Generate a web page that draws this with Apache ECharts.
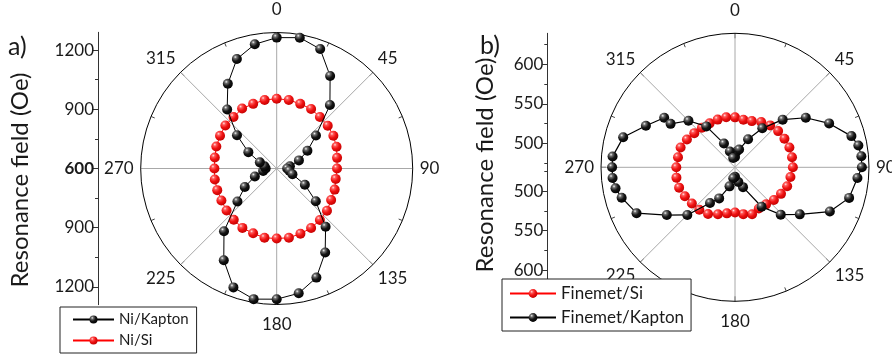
<!DOCTYPE html>
<html><head><meta charset="utf-8">
<script src="https://cdn.jsdelivr.net/npm/echarts@6/dist/echarts.min.js"></script>
<style>html,body{margin:0;padding:0;background:#fff}#c{width:892px;height:358px}</style>
</head><body><div id="c"></div>
<script>
// ---------- data ----------
const angleTicks = [0, 45, 90, 135, 180, 225, 270, 315];
// panel a (10 degree steps)
const anglesA = [0,10,20,30,40,50,60,70,80,90,100,110,120,130,140,150,160,170,180,190,200,210,220,230,240,250,260,270,280,290,300,310,320,330,340,350];
const niKapton = [1264,1274,1245,1142,1020,860,780,720,668,653,665,685,765,859,986,1092,1189,1243,1263,1273,1242,1137,1016,860,787,718,670,656,663,691,766,863,991,1096,1191,1240];
const niSi = [954,953,949,949,941,938,932,923,911,906,904,913,919,933,941,949,952,957,955,957,950,948,939,932,924,921,919,916,919,926,932,940,941,951,949,953];
const radialLabelsA = [1200, 900, 600, 900, 1200];
// panel b
const anglesBSi = [0,10,20,30,40,50,60,70,80,90,100,110,120,130,140,150,160,170,180,190,200,210,220,230,240,250,260,270,280,290,300,310,320,330,340,350];
const finemetSi = [533,531,532,536,539,541,542,543,543,543,541,540,537,534,531,530,533,530,527,529,533,538,540,541,543,545,545,544,543,543,540,537,535,534,534,534];
const anglesBKapton = [0,6,13,25,35,45,55,65,75,80,85,90,95,105,115,126,136,146,158,167,180,189,196,207,215,225,235,245,255,260,265,270,275,285,295,305,304,315,325,335,342,349];
const finemetKapton = [483,490,493,509,530,555,579,601,622,628,630,630,625,619,602,571,553,530,497,489,482,484,495,514,525,555,575,607,618,623,625,625,625,616,594,579,568,553,533,503,491,482];
const radialLabelsB = [600, 550, 500, 500, 550, 600];

// ---------- helpers ----------
const FONT = 'Lato';
const TXT = '#1a1a1a';
function pts(angles, vals) {
  const d = angles.map((a, i) => [vals[i], a]);
  d.push({ value: [vals[0], angles[0] + 360], symbol: 'none' });
  return d;
}
const blackBall = { type: 'radial', x: 0.35, y: 0.3, r: 0.75, colorStops: [
  { offset: 0, color: '#f4f4f4' }, { offset: 0.2, color: '#707070' }, { offset: 0.55, color: '#151515' }, { offset: 1, color: '#000' }] };
const redBall = { type: 'radial', x: 0.35, y: 0.3, r: 0.75, colorStops: [
  { offset: 0, color: '#ffe4e4' }, { offset: 0.2, color: '#ff5a5a' }, { offset: 0.55, color: '#ee1111' }, { offset: 1, color: '#c00000' }] };

function angleAxis(idx) {
  return {
    polarIndex: idx, type: 'value', min: 0, max: 360, interval: 45, startAngle: 90, clockwise: true,
    axisLine: { lineStyle: { color: '#000', width: 1 } },
    axisTick: { show: true, inside: true, length: 5, lineStyle: { color: '#444' } },
    minorTick: { show: true, splitNumber: 2, length: 4, lineStyle: { color: '#444' } },
    splitLine: { show: true, lineStyle: { color: '#a8a8a8', width: 1 } },
    axisLabel: {
      margin: 7, color: TXT, fontFamily: FONT, fontSize: 17,
      formatter: v => v === 0 ? '{t|0}' : v === 180 ? '{b|180}' : (v === 360 ? '' : String(v)),
      rich: {
        t: { padding: [0, 0, 7, 0], fontSize: 17, fontFamily: FONT, color: TXT },
        b: { padding: [5, 0, 0, 0], fontSize: 17, fontFamily: FONT, color: TXT }
      }
    }
  };
}

const chart = echarts.init(document.getElementById('c'), null, { renderer: 'canvas' });
const option = {
  animation: false,
  backgroundColor: '#fff',
  textStyle: { fontFamily: FONT },
  polar: [
    { center: [276.7, 168.5], radius: 136 },
    { center: [735, 167.3], radius: 134 }
  ],
  angleAxis: [angleAxis(0), angleAxis(1)],
  radiusAxis: [
    { polarIndex: 0, type: 'value', min: 600, max: 1290, show: false },
    { polarIndex: 1, type: 'value', min: 470, max: 639, show: false }
  ],
  grid: [
    { left: 98, width: 10, top: 32.3, height: 272.4 },
    { left: 547.3, width: 10, top: 33.3, height: 268 }
  ],
  xAxis: [
    { gridIndex: 0, type: 'value', show: false },
    { gridIndex: 1, type: 'value', show: false }
  ],
  yAxis: [
    { gridIndex: 0, type: 'value', position: 'left', min: -690, max: 690,
      axisLine: { show: true, lineStyle: { color: '#333', width: 1 } },
      splitLine: { show: false },
      axisTick: { show: true, length: 6, customValues: [-600, -300, 0, 300, 600], lineStyle: { color: '#333' } },
      axisLabel: { show: true, margin: 4, customValues: [-600, -300, 0, 300, 600], color: TXT, fontFamily: FONT, fontSize: 17,
        formatter: v => v === 0 ? '{m|600}' : String(600 + Math.abs(v)),
        rich: { m: { fontWeight: 'bold', fontSize: 17, fontFamily: FONT, color: TXT } } } },
    { gridIndex: 0, type: 'value', position: 'left', offset: 0, min: -690, max: 690,
      axisLine: { show: false }, splitLine: { show: false }, axisLabel: { show: false },
      axisTick: { show: true, length: 3, customValues: [-450, -150, 150, 450], lineStyle: { color: '#333' } } },
    { gridIndex: 1, type: 'value', position: 'left', min: -169, max: 169,
      axisLine: { show: true, lineStyle: { color: '#333', width: 1 } },
      splitLine: { show: false },
      axisTick: { show: true, length: 5, customValues: [-130, -80, -30, 30, 80, 130], lineStyle: { color: '#333' } },
      axisLabel: { show: true, margin: 4, customValues: [-130, -80, -30, 30, 80, 130], color: TXT, fontFamily: FONT, fontSize: 17,
        formatter: v => String(470 + Math.abs(v)) } },
    { gridIndex: 1, type: 'value', position: 'left', offset: 0, min: -169, max: 169,
      axisLine: { show: false }, splitLine: { show: false }, axisLabel: { show: false },
      axisTick: { show: true, length: 3, customValues: [-155, -105, -55, -5, 5, 55, 105, 155], lineStyle: { color: '#333' } } }
  ],
  legend: [
    { data: ['Ni/Kapton', 'Ni/Si'], orient: 'vertical', left: 60, top: 307, z: 10,
      itemWidth: 41, itemHeight: 10, itemGap: 6, padding: [5, 8, 5, 12],
      backgroundColor: '#fff', borderColor: '#222', borderWidth: 1,
      textStyle: { fontFamily: FONT, fontSize: 15, color: TXT } },
    { data: ['Finemet/Si', 'Finemet/Kapton'], orient: 'vertical', left: 502, top: 279, z: 10,
      itemWidth: 46, itemHeight: 11, itemGap: 7, padding: [6, 7, 5, 7],
      backgroundColor: '#fff', borderColor: '#222', borderWidth: 1,
      textStyle: { fontFamily: FONT, fontSize: 17, color: TXT } }
  ],
  graphic: [
    { type: 'text', x: 20, y: 180, rotation: Math.PI / 2, z: 20,
      style: { text: 'Resonance field (Oe)', fontFamily: FONT, fontSize: 24, fill: TXT, textAlign: 'center', textVerticalAlign: 'middle' } },
    { type: 'text', x: 485, y: 165, rotation: Math.PI / 2, z: 20,
      style: { text: 'Resonance field (Oe)', fontFamily: FONT, fontSize: 24, fill: TXT, textAlign: 'center', textVerticalAlign: 'middle' } },
    { type: 'text', left: 8, top: 34, z: 20, style: { text: 'a)', fontFamily: FONT, fontSize: 25, fill: TXT } },
    { type: 'text', left: 480, top: 33, z: 20, style: { text: 'b)', fontFamily: FONT, fontSize: 25, fill: TXT } }
  ],
  series: [
    { name: 'Ni/Si', type: 'line', coordinateSystem: 'polar', polarIndex: 0, data: pts(anglesA, niSi),
      symbol: 'circle', symbolSize: 10, lineStyle: { color: '#ff0000', width: 1 }, itemStyle: { color: redBall }, z: 3 },
    { name: 'Ni/Kapton', type: 'line', coordinateSystem: 'polar', polarIndex: 0, data: pts(anglesA, niKapton),
      symbol: 'circle', symbolSize: 10, lineStyle: { color: '#000', width: 1 }, itemStyle: { color: blackBall }, z: 4 },
    { name: 'Finemet/Si', type: 'line', coordinateSystem: 'polar', polarIndex: 1, data: pts(anglesBSi, finemetSi),
      symbol: 'circle', symbolSize: 10, lineStyle: { color: '#ff0000', width: 1 }, itemStyle: { color: redBall }, z: 3 },
    { name: 'Finemet/Kapton', type: 'line', coordinateSystem: 'polar', polarIndex: 1, data: pts(anglesBKapton, finemetKapton),
      symbol: 'circle', symbolSize: 10, lineStyle: { color: '#000', width: 1.2 }, itemStyle: { color: blackBall }, z: 4 }
  ]
};
chart.setOption(option);
</script></body></html>
